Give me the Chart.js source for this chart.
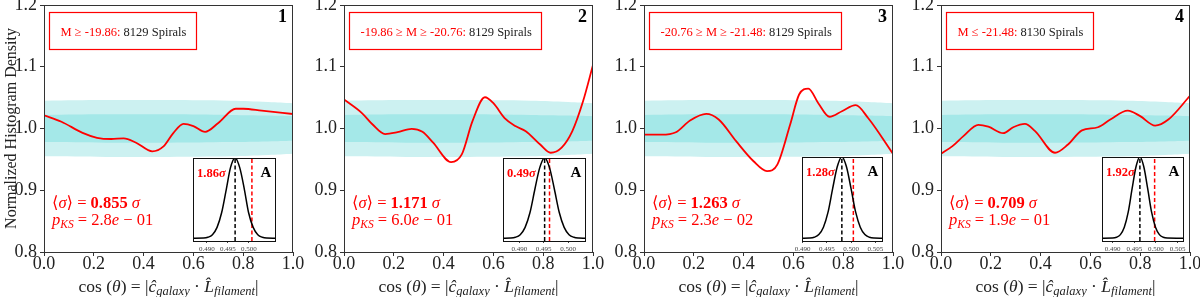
<!DOCTYPE html>
<html>
<head>
<meta charset="utf-8">
<script src="https://cdn.jsdelivr.net/npm/chart.js@4.4.1/dist/chart.umd.min.js"></script>
<style>
  body { margin: 0; background: #fff; }
  #wrap { position: relative; width: 1200px; height: 297px; }
  #wrap canvas { position: absolute; left: 0; top: 0; }
</style>
</head>
<body>
<div id="wrap"></div>
<script>
// ---- data ----
const xTicks = [0, 0.2, 0.4, 0.6, 0.8, 1.0];
const yTicks = [0.8, 0.9, 1.0, 1.1, 1.2];

// 1 and 2 sigma bands (same in every panel)
const bandX   = [0, 0.25, 0.5, 0.75, 0.9, 1.0];
const lightHi = [1.045, 1.046, 1.046, 1.045, 1.043, 1.041];
const lightLo = [0.955, 0.954, 0.954, 0.955, 0.957, 0.959];
const darkHi  = [1.022, 1.023, 1.023, 1.022, 1.021, 1.020];
const darkLo  = [0.978, 0.977, 0.977, 0.978, 0.979, 0.980];

// normalized histogram density curves
const cosX1 = [0, 0.07, 0.155, 0.213, 0.27, 0.32, 0.37, 0.435, 0.48, 0.52, 0.56, 0.60, 0.647, 0.70, 0.77, 0.80, 0.874, 1.0];
const dens1 = [1.0215, 1.011, 0.993, 0.985, 0.983, 0.984, 0.977, 0.963, 0.971, 0.993, 1.0075, 1.004, 0.9946, 1.009, 1.032, 1.032, 1.029, 1.0235];
const cosX2 = [0, 0.072, 0.115, 0.165, 0.215, 0.272, 0.315, 0.358, 0.43, 0.473, 0.516, 0.566, 0.60, 0.645, 0.688, 0.73, 0.788, 0.83, 0.874, 0.917, 0.96, 1.0];
const dens2 = [1.047, 1.025, 1.0065, 0.991, 0.994, 0.9995, 0.9946, 0.977, 0.9456, 0.958, 1.012, 1.0506, 1.041, 1.017, 1.004, 0.9957, 0.974, 0.9607, 0.969, 0.9957, 1.044, 1.103];
const cosX3 = [0, 0.07, 0.128, 0.185, 0.25, 0.30, 0.37, 0.44, 0.494, 0.536, 0.587, 0.623, 0.66, 0.70, 0.745, 0.795, 0.85, 0.90, 1.0];
const dens3 = [0.990, 0.990, 0.994, 1.013, 1.0237, 1.0145, 0.9795, 0.947, 0.931, 0.942, 1.0065, 1.055, 1.0646, 1.041, 1.019, 1.028, 1.0377, 1.017, 0.959];
const cosX4 = [0, 0.046, 0.09, 0.15, 0.19, 0.25, 0.29, 0.337, 0.378, 0.458, 0.51, 0.566, 0.63, 0.68, 0.75, 0.80, 0.86, 0.913, 1.0];
const dens4 = [0.959, 0.9715, 0.9876, 1.006, 1.003, 0.9925, 1.002, 1.0075, 0.9957, 0.9607, 0.974, 0.997, 1.002, 1.0145, 1.029, 1.02, 1.0047, 1.0145, 1.053];
const cosX = [cosX1, cosX2, cosX3, cosX4];
const dens = [dens1, dens2, dens3, dens4];

const panelNums = ['1', '2', '3', '4'];
const magLabels = ['M \u2265 -19.86:', '-19.86 \u2265 M \u2265 -20.76:', '-20.76 \u2265 M \u2265 -21.48:', 'M \u2264 -21.48:'];
const spiralCounts = ['8129 Spirals', '8129 Spirals', '8129 Spirals', '8130 Spirals'];
const meanSigma = ['0.855', '1.171', '1.263', '0.709'];
const pValue = ['2.8', '6.0', '2.3', '1.9'];
const pExp = ['01', '01', '02', '01'];

// inset A: distribution of mean alignment
const sigmaLabels = ['1.86', '0.49', '1.28', '1.92'];
const insetMin = [0.48667, 0.48667, 0.48988, 0.48755];
const insetMax = [0.50620, 0.50347, 0.50638, 0.50625];
const insetTicks = [[0.490, 0.495, 0.500], [0.490, 0.495, 0.500], [0.490, 0.495, 0.500, 0.505], [0.490, 0.495, 0.500, 0.505]];
const meanAngle = [0.4967, 0.4952, 0.4981, 0.4963];
const obsAngle = [0.5007, 0.4962, 0.50047, 0.4997];
const gaussX1 = [0.48667, 0.4892, 0.4902, 0.4913, 0.4924, 0.4935, 0.4946, 0.4956, 0.4967, 0.4978, 0.4989, 0.4999, 0.5010, 0.5021, 0.5032, 0.5042, 0.5062];
const gaussX2 = [0.48667, 0.4882, 0.4892, 0.4902, 0.4912, 0.4922, 0.4932, 0.4942, 0.4952, 0.4962, 0.4972, 0.4982, 0.4992, 0.5002, 0.5012, 0.5022, 0.50347];
const gaussX3 = [0.48988, 0.49145, 0.4924, 0.49335, 0.4943, 0.49525, 0.4962, 0.49715, 0.4981, 0.49905, 0.5000, 0.50095, 0.5019, 0.50285, 0.5038, 0.50475, 0.50638];
const gaussX4 = [0.48755, 0.4900, 0.4909, 0.4918, 0.4927, 0.4936, 0.4945, 0.4954, 0.4963, 0.4972, 0.4981, 0.4990, 0.4999, 0.5008, 0.5017, 0.5026, 0.50625];
const gaussX = [gaussX1, gaussX2, gaussX3, gaussX4];
const gaussY = [0, 0.002, 0.011, 0.044, 0.135, 0.32, 0.61, 0.88, 1, 0.88, 0.61, 0.32, 0.135, 0.044, 0.011, 0.002, 0];

// ---- layout ----
const W = 1200, H = 297;
const serif = "'Liberation Serif', 'DejaVu Serif', serif";
const red = '#ff0000';
const ink = '#222';
const lightCyan = '#ccf1f1';
const darkCyan = '#a4e8e8';
const panelLeft = [0, 300, 600, 897];
const panelRight = [293, 593, 893, 1190];
const insetBox = [[193, 275, 158, 241], [503, 585, 158, 241], [802, 882, 157, 241], [1102, 1183, 157, 241]];

const wrap = document.getElementById('wrap');
const f = (size, style) => (style || '') + ' ' + size + 'px ' + serif;
const pts = (xs, ys) => xs.map((x, k) => ({ x: x, y: ys[k] }));

function newCanvas() {
  const cv = document.createElement('canvas');
  cv.width = W; cv.height = H;
  wrap.appendChild(cv);
  return cv;
}

// draws runs of text with mixed fonts on one baseline
function drawSegs(ctx, segs, x, y, align) {
  let w = 0;
  segs.forEach(s => { ctx.font = s[1]; w += ctx.measureText(s[0]).width; });
  let cx = align === 'center' ? x - w / 2 : x;
  ctx.textAlign = 'left';
  ctx.textBaseline = 'alphabetic';
  segs.forEach(s => {
    ctx.font = s[1];
    ctx.fillStyle = s[3] || ink;
    ctx.fillText(s[0], cx, y + (s[2] || 0));
    cx += ctx.measureText(s[0]).width;
  });
}

function panelDeco(i) {
  return {
    id: 'panelDeco',
    afterDraw(chart) {
      const ctx = chart.ctx, a = chart.chartArea;
      ctx.save();
      // axes frame
      ctx.strokeStyle = '#333';
      ctx.lineWidth = 1;
      ctx.strokeRect(Math.round(a.left) + 0.5, Math.round(a.top) + 0.5, Math.round(a.right - a.left) - 1, Math.round(a.bottom - a.top));

      // magnitude bin box
      ctx.font = f(12.5);
      const w1 = ctx.measureText(magLabels[i]).width;
      const w2 = ctx.measureText(' ' + spiralCounts[i]).width;
      const bx = a.left + 5.5, by = a.top + 7.5, bw = Math.round(w1 + w2 + 21), bh = 37;
      ctx.strokeStyle = red;
      ctx.lineWidth = 1.2;
      ctx.strokeRect(bx, by, bw, bh);
      drawSegs(ctx, [[magLabels[i], f(12.5), 0, red], [' ' + spiralCounts[i], f(12.5), 0, ink]], bx + 11, by + 23);

      // panel number
      ctx.font = f(18, 'bold');
      ctx.fillStyle = '#000';
      ctx.textAlign = 'right';
      ctx.fillText(panelNums[i], a.right - 6, a.top + 17);

      // statistics
      drawSegs(ctx, [
        ['\u27e8', f(16.5), 0, red], ['\u03c3', f(16.5, 'italic'), 0, red], ['\u27e9 = ', f(16.5), 0, red],
        [meanSigma[i], f(16.5, 'bold'), 0, red], [' \u03c3', f(16.5, 'italic'), 0, red]
      ], a.left + 8, 208);
      drawSegs(ctx, [
        ['p', f(16.5, 'italic'), 0, red], ['KS', f(11.5, 'italic'), 3, red], [' = ' + pValue[i], f(16.5), 0, red],
        ['e', f(16.5, 'italic'), 0, red], [' \u2212 ' + pExp[i], f(16.5), 0, red]
      ], a.left + 8, 225);

      // x axis title
      drawSegs(ctx, [
        ['cos (', f(17.5)], ['\u03b8', f(17.5, 'italic')], [') = |', f(17.5)], ['\u0109', f(17.5, 'italic')],
        ['galaxy', f(12.5, 'italic'), 3], [' \u00b7 ', f(17.5)], ['L\u0302', f(17.5, 'italic')],
        ['filament', f(12.5, 'italic'), 3], ['|', f(17.5)]
      ], (a.left + a.right) / 2, 292, 'center');
      ctx.restore();
    }
  };
}

function mainChart(i) {
  // higher order is drawn first (further back)
  const band = (ys, fill, color, order) => ({
    data: pts(bandX, ys), borderWidth: 0, pointRadius: 0, tension: 0.4, order: order,
    fill: fill, backgroundColor: color, borderColor: 'transparent'
  });
  new Chart(newCanvas().getContext('2d'), {
    type: 'line',
    data: {
      datasets: [
        band(lightHi, false, 'transparent', 4),
        band(lightLo, '-1', lightCyan, 3),
        band(darkHi, false, 'transparent', 2),
        band(darkLo, '-1', darkCyan, 1),
        {
          data: pts(cosX[i], dens[i]), borderColor: red, borderWidth: 1.8, order: 0,
          pointRadius: 0, cubicInterpolationMode: 'monotone', fill: false
        }
      ]
    },
    options: {
      responsive: false, animation: false, events: [],
      layout: { padding: { left: panelLeft[i], right: W - panelRight[i], top: 5, bottom: 0 } },
      plugins: { legend: { display: false }, tooltip: { enabled: false } },
      scales: {
        x: {
          type: 'linear', min: 0, max: 1,
          afterBuildTicks: s => { s.ticks = xTicks.map(v => ({ value: v })); },
          ticks: { font: { size: 18, family: serif, lineHeight: 1 }, color: ink, padding: -1, maxRotation: 0, autoSkip: false, callback: v => v.toFixed(1) },
          grid: { drawOnChartArea: false, tickLength: 4, color: '#333' },
          border: { display: false },
          afterFit: s => { s.height = 45; s.paddingLeft = 0; s.paddingRight = 0; }
        },
        y: {
          min: 0.8, max: 1.2,
          afterBuildTicks: s => { s.ticks = yTicks.map(v => ({ value: v })); },
          ticks: { font: { size: 18, family: serif }, color: ink, padding: 3, callback: v => v.toFixed(1) },
          grid: { drawOnChartArea: false, tickLength: 4, color: '#333' },
          border: { display: false },
          title: { display: i === 0, text: 'Normalized Histogram Density', font: { size: 16, family: serif }, color: ink, padding: { top: 2, bottom: 0 } },
          afterFit: s => { s.width = 44; s.paddingTop = 0; s.paddingBottom = 0; }
        }
      }
    },
    plugins: [panelDeco(i)]
  });
}

function insetDeco(i) {
  return {
    id: 'insetDeco',
    beforeDraw(chart) {
      const ctx = chart.ctx, a = chart.chartArea;
      ctx.save();
      ctx.fillStyle = '#fff';
      ctx.fillRect(a.left, a.top, a.right - a.left, a.bottom - a.top);
      ctx.restore();
    },
    afterDraw(chart) {
      const ctx = chart.ctx, a = chart.chartArea;
      ctx.save();
      ctx.strokeStyle = '#111';
      ctx.lineWidth = 1;
      ctx.strokeRect(Math.round(a.left) + 0.5, Math.round(a.top) + 0.5, Math.round(a.right - a.left), Math.round(a.bottom - a.top));
      drawSegs(ctx, [[sigmaLabels[i], f(12.5, 'bold'), 0, red], ['\u03c3', f(12.5, 'italic bold'), 0, red]], a.left + 4, a.top + 19);
      ctx.font = f(15, 'bold');
      ctx.fillStyle = '#000';
      ctx.textAlign = 'center';
      ctx.fillText('A', a.right - 9, a.top + 19);
      ctx.restore();
    }
  };
}

function insetChart(i) {
  const b = insetBox[i];
  const axisH = 14;
  const vline = (x, color) => ({
    data: [{ x: x, y: -0.035 }, { x: x, y: 1 }], borderColor: color, borderWidth: 1.5,
    borderDash: [4, 2.5], pointRadius: 0, fill: false
  });
  new Chart(newCanvas().getContext('2d'), {
    type: 'line',
    data: {
      datasets: [
        {
          data: pts(gaussX[i], gaussY), borderColor: '#000', borderWidth: 1.5,
          pointRadius: 0, cubicInterpolationMode: 'monotone', fill: false
        },
        vline(meanAngle[i], '#000'),
        vline(obsAngle[i], red)
      ]
    },
    options: {
      responsive: false, animation: false, events: [],
      layout: { padding: { left: b[0], right: W - b[1], top: b[2], bottom: H - b[3] - axisH } },
      plugins: { legend: { display: false }, tooltip: { enabled: false } },
      scales: {
        x: {
          type: 'linear', min: insetMin[i], max: insetMax[i],
          afterBuildTicks: s => { s.ticks = insetTicks[i].map(v => ({ value: v })); },
          ticks: { font: { size: 7, family: serif, lineHeight: 1 }, color: '#444', padding: 3, maxRotation: 0, autoSkip: false, callback: v => v.toFixed(3) },
          grid: { drawOnChartArea: false, tickLength: 2, color: '#444' },
          border: { display: false },
          afterFit: s => { s.height = axisH; s.paddingLeft = 0; s.paddingRight = 0; }
        },
        y: { display: false, min: -0.035, max: 1 }
      }
    },
    plugins: [insetDeco(i)]
  });
}

for (let i = 0; i < 4; i++) {
  mainChart(i);
  insetChart(i);
}
</script>
</body>
</html>
